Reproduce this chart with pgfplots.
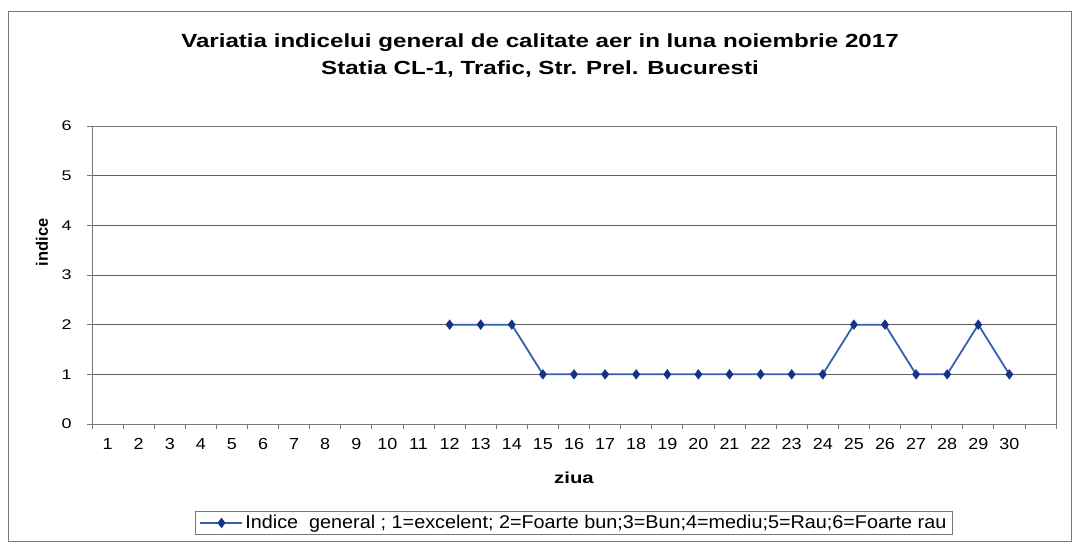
\documentclass[border=0pt]{standalone}
\usepackage{pgfplots}
\pgfplotsset{compat=1.18}
\usepackage{fontspec}
\setmainfont{Liberation Sans}
\newfontfamily\titlefont[FakeStretch=1.27]{Liberation Sans}
\newfontfamily\xtfont[FakeStretch=1.12]{Liberation Sans}
\newfontfamily\ytfont[FakeStretch=1.28]{Liberation Sans}
\newfontfamily\legfont[FakeStretch=1.07]{Liberation Sans}
\definecolor{lineblue}{RGB}{55,95,175}
\definecolor{markblue}{RGB}{20,50,135}
\definecolor{gridc}{RGB}{95,95,95}
\definecolor{framec}{RGB}{120,120,120}
\begin{document}
\begin{tikzpicture}[x=1pt,y=1pt]
\useasboundingbox (0,0) rectangle (1074,545);
\draw[framec, line width=0.8pt] (8,4) rectangle (1071,534);
\node[font=\titlefont\bfseries\fontsize{19}{22}\selectfont] at (540,502) {Variatia indicelui general de calitate aer in luna noiembrie 2017};
\node[font=\titlefont\bfseries\fontsize{19}{22}\selectfont] at (540,476) {Statia CL-1, Trafic, Str. Prel. Bucuresti};
\begin{axis}[
  at={(92pt,121pt)}, anchor=south west,
  scale only axis, width=964pt, height=298pt,
  xmin=0.5, xmax=31.5, ymin=0, ymax=6,
  xtick={1,...,30}, major x tick style={draw=none},
  minor xtick={0.5,1.5,...,31.5},
  minor tick length=5pt,
  ytick={0,1,...,6}, major tick length=5pt,
  tick align=outside, tick pos=left,
  ymajorgrids, grid style={gridc, line width=0.6pt},
  axis line style={framec, line width=0.8pt},
  every tick/.style={framec, line width=0.8pt},
  minor tick style={framec, line width=0.8pt},
  xticklabel style={font=\xtfont\fontsize{16}{18}\selectfont, yshift=-6pt},
  yticklabel style={font=\ytfont\fontsize{14}{16}\selectfont, xshift=-12pt},
  /pgf/number format/assume math mode=true,
  xlabel={\bfseries ziua},
  xlabel style={font=\titlefont\fontsize{16}{18}\selectfont, at={(axis description cs:0.5,-0.181)}, anchor=center},
  ylabel={\bfseries indice},
  ylabel style={font=\fontsize{16.5}{18}\selectfont, at={(axis description cs:-0.052,0.61)}, anchor=center, rotate=0},
  legend style={at={(axis description cs:0.5,-0.332)}, anchor=center, draw=framec, line width=0.8pt, font=\legfont\fontsize{18.5}{20}\selectfont, inner xsep=4pt, inner ysep=2pt},
  legend cell align=left,
  legend image code/.code={\draw[mark repeat=2,mark phase=2] plot coordinates {(0pt,0pt)(21pt,0pt)(42pt,0pt)};},
]
\addplot[lineblue, line width=1.8pt, mark=diamond*, mark size=4.8pt, mark options={markblue, fill=markblue, line width=0.5pt}]
coordinates {(12,2)(13,2)(14,2)(15,1)(16,1)(17,1)(18,1)(19,1)(20,1)(21,1)(22,1)(23,1)(24,1)(25,2)(26,2)(27,1)(28,1)(29,2)(30,1)};
\addlegendentry{Indice\ \ general ; 1=excelent; 2=Foarte bun;3=Bun;4=mediu;5=Rau;6=Foarte rau}
\end{axis}
\end{tikzpicture}
\end{document}
